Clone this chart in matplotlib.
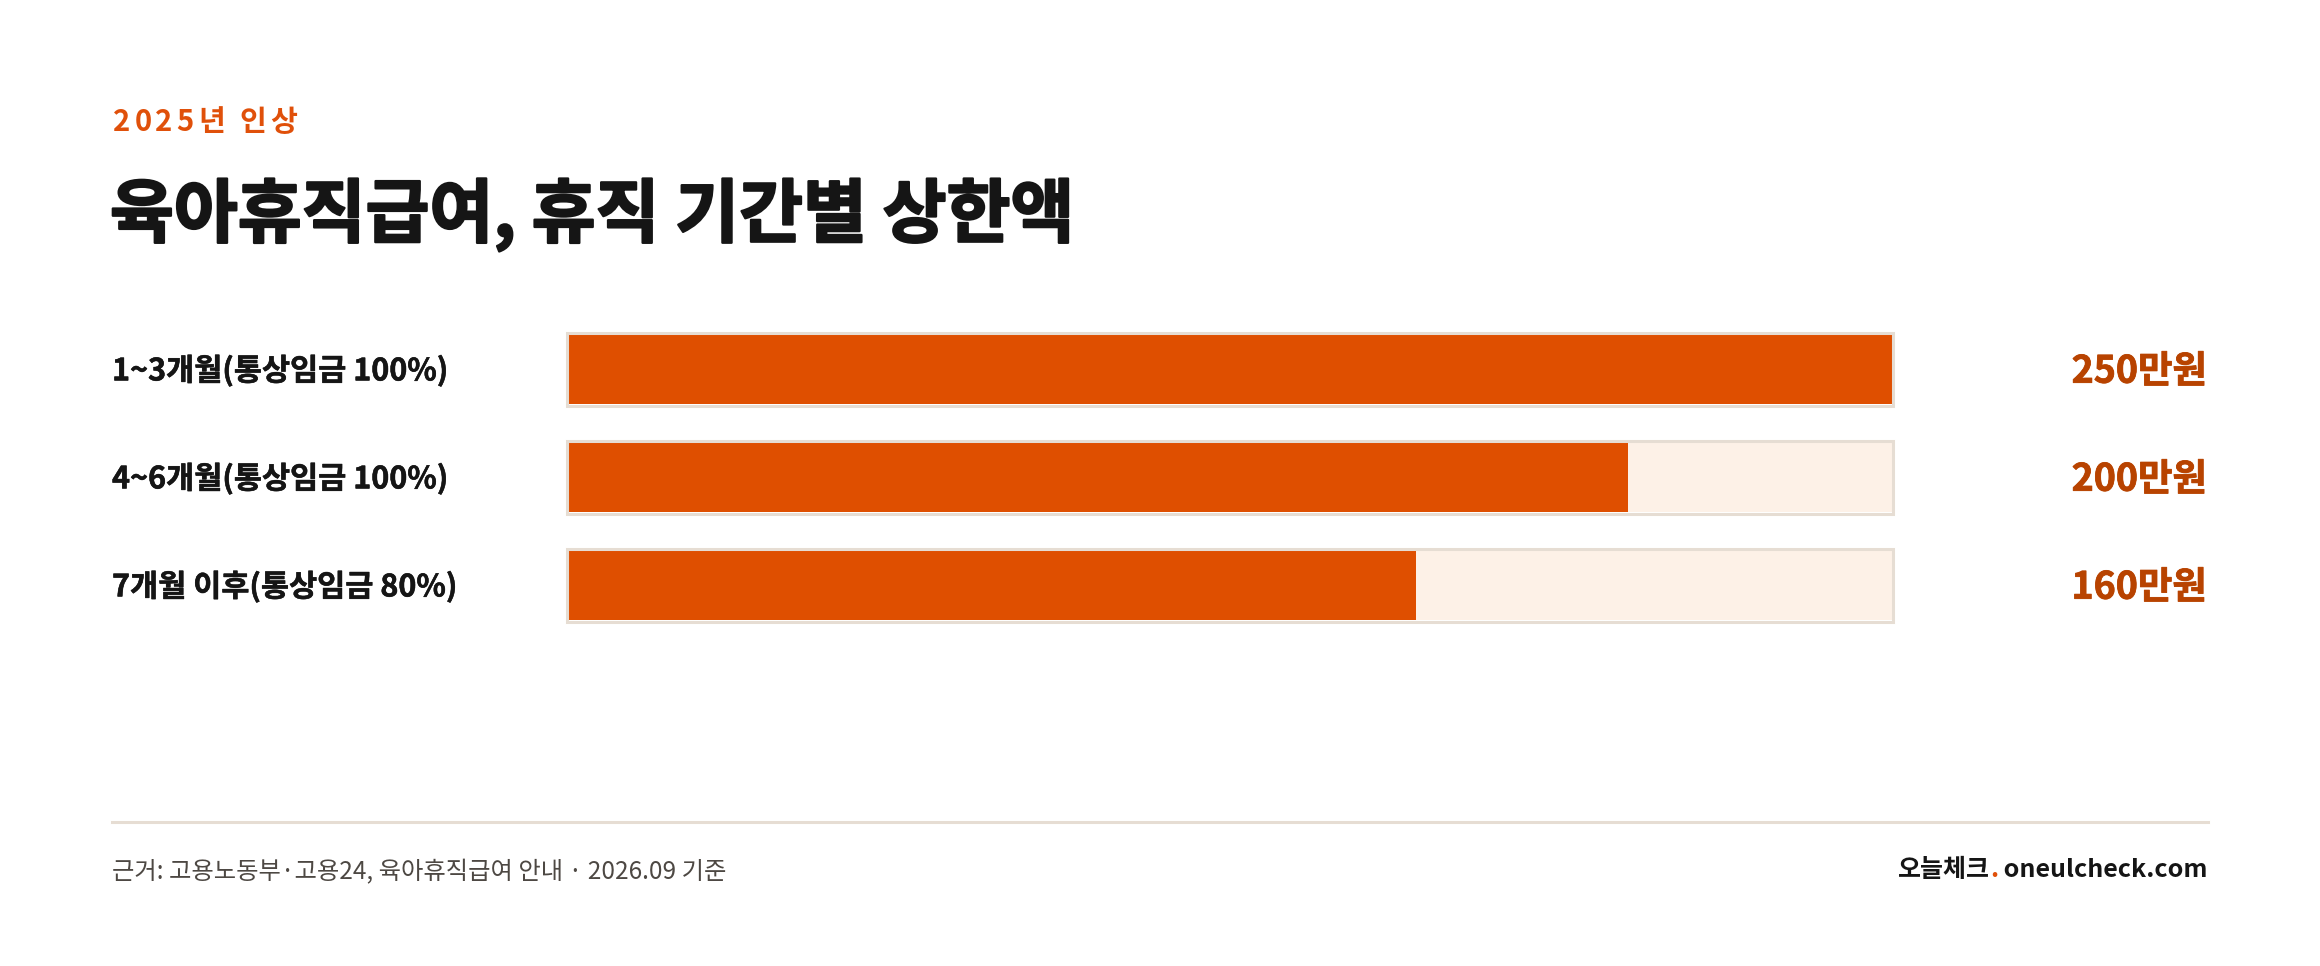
import matplotlib
matplotlib.use('Agg')
import matplotlib.pyplot as plt
import matplotlib.patheffects as pe
from matplotlib.transforms import blended_transform_factory

plt.rcParams['font.family'] = ['Noto Sans CJK KR', 'DejaVu Sans']

# data
labels = ['1~3개월(통상임금 100%)', '4~6개월(통상임금 100%)', '7개월 이후(통상임금 80%)']
values = [250, 200, 160]          # 만원
value_labels = ['250만원', '200만원', '160만원']
scale_max = 250

kicker = '2025년 인상'
title = '육아휴직급여, 휴직 기간별 상한액'
source = '근거: 고용노동부·고용24, 육아휴직급여 안내 · 2026.09 기준'
brand = [('오늘체크', '#151515'), ('.', '#e0500a'), (' oneulcheck.com', '#151515')]

ORANGE = '#df4f00'
TRACK = '#fdf1e7'
BORDER = '#e6ddd3'
VALUE_C = '#b84300'

W, H = 2320, 966
fig = plt.figure(figsize=(W / 100, H / 100), dpi=100)
fig.patch.set_facecolor('white')


def fx(x):
    return x / W


def fy(y):
    return 1 - y / H


def draw_runs(x, y, runs, ha='left', spacing=0.0, **kw):
    # draw coloured pieces of text one after another
    r = fig.canvas.get_renderer()
    ts = [fig.text(0, y, s, color=c, va='center', ha='left', **kw) for s, c in runs]
    ws = [t.get_window_extent(r).width / W for t in ts]
    total = sum(ws) + spacing * (len(ts) - 1)
    cur = x if ha == 'left' else x - total
    for t, w in zip(ts, ws):
        t.set_x(cur)
        cur += w + spacing


# bars axes: x 567..1893 px, rows 108 px apart centred at 369/477/585
ax = fig.add_axes([fx(567), fy(639), fx(1893) - fx(567), (639 - 315) / H])
ax.set_xlim(0, scale_max)
ax.set_ylim(len(values) - 0.5, -0.5)
ax.axis('off')

rows = list(range(len(values)))
ax.barh(rows, [scale_max] * len(values), height=70 / 108, left=0,
        color=TRACK, zorder=1)
ax.barh(rows, values, height=70 / 108, color=ORANGE, zorder=2)
ax.barh(rows, [scale_max] * len(values), height=73 / 108, left=0,
        facecolor='none', edgecolor=BORDER, linewidth=2.2, zorder=3,
        clip_on=False)

tr = blended_transform_factory(fig.transFigure, ax.transData)
for i, (lab, vl) in enumerate(zip(labels, value_labels)):
    ax.text(fx(112), i + 0.02, lab, transform=tr, ha='left', va='center',
            fontsize=22, fontweight='bold', color='#151515',
            path_effects=[pe.withStroke(linewidth=0.4, foreground='#151515')])
    ax.text(fx(2207), i + 0.02, vl, transform=tr, ha='right', va='center',
            fontsize=27, fontweight='bold', color=VALUE_C,
            path_effects=[pe.withStroke(linewidth=0.6, foreground=VALUE_C)])

# header
draw_runs(fx(113), fy(122), [(ch, '#e0500a') for ch in kicker],
          spacing=4 / W, fontsize=21, fontweight='bold')
fig.text(fx(110), fy(215), title, ha='left', va='center', fontsize=50,
         fontweight='heavy', color='#151515',
         path_effects=[pe.withStroke(linewidth=1.6, foreground='#151515')])

# footer
fig.add_artist(plt.Line2D([fx(112), fx(2208)], [fy(822), fy(822)],
                          color=BORDER, linewidth=2.2))
fig.text(fx(112), fy(872), source, ha='left', va='center', fontsize=17.5,
         fontweight='medium', color='#4d4843')
draw_runs(fx(2208), fy(870), brand, ha='right', fontsize=18,
          fontweight='bold')

fig.savefig('out.png', dpi=100, facecolor='white')
